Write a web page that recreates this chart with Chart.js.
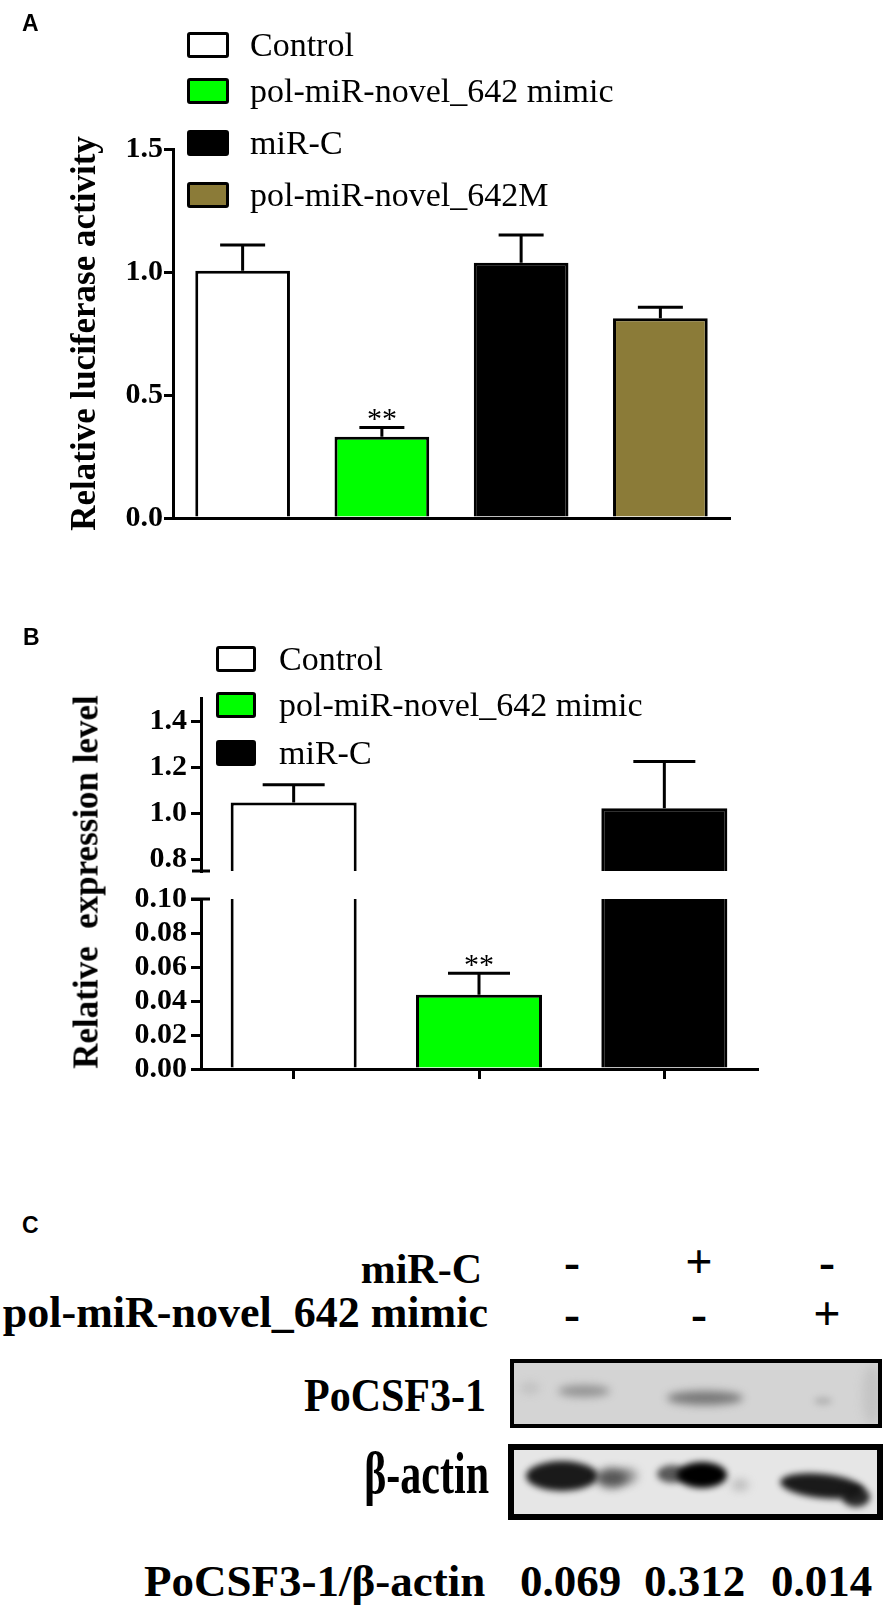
<!DOCTYPE html>
<html>
<head>
<meta charset="utf-8">
<script src="https://cdn.jsdelivr.net/npm/chart.js@4.4.0/dist/chart.umd.min.js"></script>
<style>
html,body{margin:0;padding:0;background:#fff;}
#page{position:relative;width:886px;height:1608px;overflow:hidden;background:#fff;}
canvas{position:absolute;left:0;}
.t{position:absolute;white-space:nowrap;line-height:1;font-family:'Liberation Serif','Times New Roman',serif;color:#000;}
.box{position:absolute;box-sizing:border-box;border:3px solid #000;border-radius:3px;}
</style>
</head>
<body>
<div id="page">
  <canvas id="chartA" width="886" height="560" style="top:0px"></canvas>
  <canvas id="chartB1" width="886" height="260" style="top:640px"></canvas>
  <canvas id="chartB2" width="886" height="240" style="top:860px"></canvas>
  <canvas id="blot" width="386" height="180" style="left:500px;top:1350px"></canvas>
</div>
<script>
// ---------- DATA ----------
const categoriesA = ['Control', 'pol-miR-novel_642 mimic', 'miR-C', 'pol-miR-novel_642M'];
const meansA = [1.005, 0.33, 1.038, 0.812];
const errorsA = [0.105, 0.038, 0.112, 0.045];
const sigA = ['', '**', '', ''];
const colorsA = ['#ffffff', '#00ff00', '#000000', '#8b7b38'];
const ticksA = [0, 0.5, 1.0, 1.5];

const categoriesB = ['Control', 'pol-miR-novel_642 mimic', 'miR-C'];
const meansB = [1.047, 0.0437, 1.022];
const errorsB = [0.077, 0.0126, 0.203];
const sigB = ['', '**', ''];
const colorsB = ['#ffffff', '#00ff00', '#000000'];
const ticksBUpper = [0.8, 1.0, 1.2, 1.4];
const ticksBLower = [0, 0.02, 0.04, 0.06, 0.08, 0.10];

const rowLabelsC = ['miR-C', 'pol-miR-novel_642 mimic'];
const signsMiRC = ['-', '+', '-'];
const signsMimic = ['-', '-', '+'];
const blotLabelsC = ['PoCSF3-1', '\u03B2-actin'];
const ratioLabelC = 'PoCSF3-1/\u03B2-actin';
const ratiosC = ['0.069', '0.312', '0.014'];

// ---------- helpers ----------
const page = document.getElementById('page');
const SERIF = "'Liberation Serif','Times New Roman',serif";
const SANS = "'Liberation Sans',Arial,sans-serif";
function addText(txt, style) {
  const d = document.createElement('div');
  d.className = 't';
  d.textContent = txt;
  Object.assign(d.style, style);
  page.appendChild(d);
  return d;
}
function addBox(left, top, w, h, color) {
  const d = document.createElement('div');
  d.className = 'box';
  Object.assign(d.style, {left: left + 'px', top: top + 'px', width: w + 'px', height: h + 'px', background: color});
  page.appendChild(d);
}

// ---------- plugins ----------
const errorBars = {
  id: 'errorBars',
  afterDatasetsDraw(chart, args, opts) {
    const ctx = chart.ctx;
    const y = chart.scales.y;
    const ds = chart.data.datasets[0];
    const meta = chart.getDatasetMeta(0);
    ctx.save();
    ctx.strokeStyle = '#000';
    ctx.lineWidth = 3;
    meta.data.forEach((bar, i) => {
      const m = ds.data[i];
      if (m < y.min || m > y.max) return;
      const yBar = y.getPixelForValue(m);
      const yTop = y.getPixelForValue(m + ds.errors[i]);
      ctx.beginPath();
      ctx.moveTo(bar.x, yBar);
      ctx.lineTo(bar.x, yTop);
      ctx.moveTo(bar.x - opts.cap / 2, yTop);
      ctx.lineTo(bar.x + opts.cap / 2, yTop);
      ctx.stroke();
      if (ds.sig && ds.sig[i]) {
        ctx.fillStyle = '#000';
        ctx.font = '30px ' + SERIF;
        ctx.textAlign = 'center';
        ctx.textBaseline = 'alphabetic';
        ctx.fillText(ds.sig[i], bar.x, yTop + 1);
      }
    });
    ctx.restore();
  }
};
const breakMarks = {
  id: 'breakMarks',
  afterDraw(chart, args, opts) {
    if (!opts.where) return;
    const ctx = chart.ctx;
    const a = chart.chartArea;
    const yy = opts.where === 'bottom' ? a.bottom : a.top;
    ctx.save();
    ctx.strokeStyle = '#000';
    ctx.lineWidth = 3;
    ctx.beginPath();
    ctx.moveTo(a.left - opts.l, yy);
    ctx.lineTo(a.left + opts.r, yy);
    ctx.stroke();
    ctx.restore();
  }
};

function yScale(min, max, ticks, digits, axisWidth, tickLen, pad) {
  return {
    min: min, max: max,
    afterBuildTicks: s => { s.ticks = ticks.map(v => ({value: v})); },
    afterFit: s => { s.width = axisWidth; },
    ticks: {color: '#000', padding: pad, autoSkip: false, font: {family: SERIF, weight: 'bold', size: 30},
            callback: v => Number(v).toFixed(digits)},
    grid: {drawOnChartArea: false, drawTicks: true, tickLength: tickLen, color: '#000', lineWidth: 3},
    border: {display: true, color: '#000', width: 3, z: 1}
  };
}

// ---------- Panel A ----------
new Chart(document.getElementById('chartA'), {
  type: 'bar',
  data: {
    labels: categoriesA,
    datasets: [{
      data: meansA, errors: errorsA, sig: sigA,
      backgroundColor: colorsA, borderColor: '#000', borderWidth: 3, borderSkipped: 'start',
      barPercentage: 0.68, categoryPercentage: 1
    }]
  },
  options: {
    responsive: false, animation: false,
    layout: {padding: {left: 0, top: 149, right: 886 - 730, bottom: 560 - 518}},
    plugins: {legend: {display: false}, tooltip: {enabled: false}, errorBars: {cap: 45}, breakMarks: {}},
    scales: {
      x: {grid: {display: false}, ticks: {display: false},
          border: {display: true, color: '#000', width: 3, z: 1},
          afterFit: s => { s.height = 0; }},
      y: Object.assign(yScale(0, 1.5, ticksA, 1, 173, 9, 1), {
        title: {display: true, text: 'Relative luciferase activity', color: '#000',
                font: {family: SERIF, weight: 'bold', size: 35}, padding: {top: 65, bottom: 0}}
      })
    }
  },
  plugins: [errorBars, breakMarks]
});

// ---------- Panel B (broken axis: upper + lower) ----------
function datasetB() {
  return [{
    data: meansB, errors: errorsB, sig: sigB,
    backgroundColor: colorsB, borderColor: '#000', borderWidth: 3, borderSkipped: 'start',
    barPercentage: 0.68, categoryPercentage: 1, clip: 0
  }];
}
new Chart(document.getElementById('chartB1'), {
  type: 'bar',
  data: {labels: categoriesB, datasets: datasetB()},
  options: {
    responsive: false, animation: false,
    layout: {padding: {left: 0, top: 698 - 640, right: 886 - 757, bottom: 900 - 871}},
    plugins: {legend: {display: false}, tooltip: {enabled: false}, errorBars: {cap: 62},
              breakMarks: {where: 'bottom', l: 9, r: 9}},
    scales: {
      x: {display: false},
      y: yScale(0.75, 1.5, ticksBUpper, 1, 201, 10, 4)
    }
  },
  plugins: [errorBars, breakMarks]
});
new Chart(document.getElementById('chartB2'), {
  type: 'bar',
  data: {labels: categoriesB, datasets: datasetB()},
  options: {
    responsive: false, animation: false,
    layout: {padding: {left: 0, top: 899 - 860, right: 886 - 757, bottom: 1100 - 1069 - 10}},
    plugins: {legend: {display: false}, tooltip: {enabled: false}, errorBars: {cap: 62},
              breakMarks: {where: 'top', l: 10, r: 9}},
    scales: {
      x: {ticks: {display: false},
          grid: {display: true, offset: false, drawOnChartArea: false, drawTicks: true, tickLength: 10, color: '#000', lineWidth: 3},
          border: {display: true, color: '#000', width: 3, z: 1},
          afterFit: s => { s.height = 10; }},
      y: yScale(0, 0.10, ticksBLower, 2, 201, 10, 4)
    }
  },
  plugins: [errorBars, breakMarks]
});

// ---------- panel letters ----------
addText('A', {left: '22px', top: '12px', fontFamily: SANS, fontWeight: 'bold', fontSize: '23px'});
addText('B', {left: '23px', top: '626px', fontFamily: SANS, fontWeight: 'bold', fontSize: '23px'});
addText('C', {left: '22px', top: '1214px', fontFamily: SANS, fontWeight: 'bold', fontSize: '23px'});

// ---------- legends ----------
const legATops = [32, 78, 130, 182];
categoriesA.forEach((c, i) => {
  addBox(187, legATops[i], 42, 26, colorsA[i]);
  addText(c, {left: '250px', top: (legATops[i] + 13 + 11 - 28.5) + 'px', fontSize: '34px'});
});
const legBTops = [646, 692, 740];
categoriesB.forEach((c, i) => {
  addBox(216, legBTops[i], 40, 26, colorsB[i]);
  addText(c, {left: '279px', top: (legBTops[i] + 13 + 11 - 28.5) + 'px', fontSize: '34px'});
});

// B axis title (rotated)
addText('Relative\u00A0\u00A0expression level', {left: '86px', top: '882px', fontSize: '35px', fontWeight: 'bold',
  transform: 'translate(-50%,-50%) rotate(-90deg)'});

// ---------- Panel C ----------
const F = 0.8375;
function rightText(txt, right, baseline, size, sy) {
  const st = {right: (886 - right) + 'px', top: (baseline - F * size) + 'px', fontSize: size + 'px',
    fontWeight: 'bold', textAlign: 'right'};
  if (sy) { st.transform = 'scaleY(' + sy + ')'; st.transformOrigin = '50% 83.75%'; }
  addText(txt, st);
}
rightText(rowLabelsC[0], 482, 1283, 42);
rightText(rowLabelsC[1], 488, 1328, 44);
const laneX = [572, 699, 827];
[signsMiRC, signsMimic].forEach((row, r) => {
  const base = r === 0 ? 1278 : 1330;
  row.forEach((s, i) => {
    addText(s, {left: (laneX[i] - 30) + 'px', width: '60px', textAlign: 'center', top: (base - F * 48) + 'px',
      fontSize: '48px', fontWeight: 'bold'});
  });
});
rightText(blotLabelsC[0], 486, 1411, 42, 1.13);
rightText(blotLabelsC[1], 489, 1493, 42, 1.42);
addText(ratioLabelC, {left: '144px', top: (1597 - F * 45) + 'px', fontSize: '45px', fontWeight: 'bold'});
const ratioLeft = [520, 644, 771];
ratiosC.forEach((v, i) => {
  addText(v, {left: ratioLeft[i] + 'px', top: (1597 - F * 45) + 'px', fontSize: '45px', fontWeight: 'bold'});
});

// western blot picture
(function drawBlot() {
  const c = document.getElementById('blot');
  const ctx = c.getContext('2d');
  function band(x, y, rx, ry, color, blur, rot) {
    ctx.save();
    ctx.filter = 'blur(' + blur + 'px)';
    ctx.fillStyle = color;
    ctx.beginPath();
    ctx.ellipse(x, y, rx, ry, rot || 0, 0, Math.PI * 2);
    ctx.fill();
    ctx.restore();
  }
  // blot 1
  ctx.save();
  ctx.beginPath(); ctx.rect(12, 11, 368, 65); ctx.clip();
  ctx.fillStyle = '#d4d4d4'; ctx.fillRect(12, 11, 368, 65);
  band(30, 38, 10, 6, 'rgba(160,160,160,0.35)', 4);
  band(84, 41, 26, 6, 'rgba(95,95,95,0.55)', 4);
  band(205, 48, 38, 7, 'rgba(70,70,70,0.65)', 4);
  band(323, 51, 9, 4, 'rgba(120,120,120,0.35)', 3);
  band(372, 45, 10, 30, 'rgba(170,170,170,0.35)', 5);
  ctx.restore();
  ctx.strokeStyle = '#000'; ctx.lineWidth = 4;
  ctx.strokeRect(12, 11, 368, 65);
  // blot 2
  ctx.save();
  ctx.beginPath(); ctx.rect(11, 97, 369, 70); ctx.clip();
  ctx.fillStyle = '#e6e6e6'; ctx.fillRect(11, 97, 369, 70);
  band(62, 126, 36, 15, 'rgba(15,15,15,0.95)', 3);
  band(112, 128, 16, 10, 'rgba(40,40,40,0.75)', 4);
  band(128, 126, 10, 8, 'rgba(90,90,90,0.5)', 4);
  band(172, 124, 15, 9, 'rgba(40,40,40,0.75)', 3);
  band(202, 125, 25, 13, 'rgba(0,0,0,1)', 3);
  band(240, 135, 9, 6, 'rgba(130,130,130,0.4)', 4);
  band(322, 136, 42, 12, 'rgba(15,15,15,0.95)', 3, 0.1);
  band(356, 147, 14, 10, 'rgba(20,20,20,0.9)', 3);
  ctx.restore();
  ctx.lineWidth = 6;
  ctx.strokeRect(11, 97, 369, 70);
})();
</script>
</body>
</html>
